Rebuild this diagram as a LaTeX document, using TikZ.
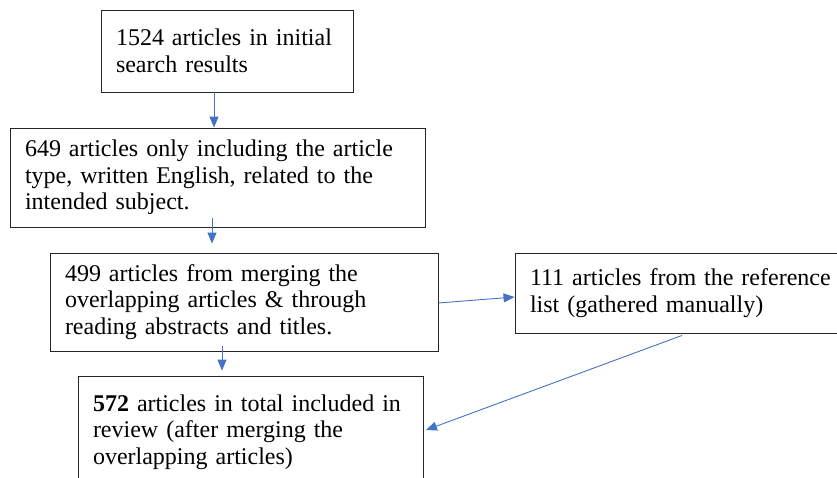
\documentclass[tikz,border=0pt]{standalone}
\usepackage{fontspec}
\setmainfont{Liberation Serif}
\usetikzlibrary{arrows.meta}
\definecolor{arrowblue}{RGB}{68,114,196}
\tikzset{
  flowbox/.style={draw=black!85, line width=0.9pt, rectangle, inner xsep=15pt, inner ysep=2pt,
    align=left, font=\fontsize{24}{26.5}\selectfont},
  flowarrow/.style={draw=arrowblue, line width=0.9pt, -{Triangle[length=11pt,width=9pt]}}
}
\begin{document}
\begin{tikzpicture}[x=1pt,y=-1pt]
\useasboundingbox (0,0) rectangle (837,477);
\node[flowbox, minimum width=252pt, minimum height=82pt, text width=222pt] (b1) at (227,51)
  {1524 articles in initial\\search results};
\node[flowbox, minimum width=415pt, minimum height=99pt, text width=385pt] (b2) at (217.5,177.5)
  {649 articles only including the article\\type, written English, related to the\\intended subject.};
\node[flowbox, minimum width=388pt, minimum height=98pt, text width=358pt] (b3) at (244,302)
  {499 articles from merging the\\overlapping articles \& through\\reading abstracts and titles.};
\node[flowbox, minimum width=350pt, minimum height=80pt, text width=320pt] (b4) at (690,293)
  {111 articles from the reference\\list (gathered manually)};
\node[flowbox, minimum width=345pt, minimum height=112pt, text width=315pt] (b5) at (250.5,432)
  {\textbf{572} articles in total included in\\review (after merging the\\overlapping articles)};
\draw[flowarrow] ([xshift=-13pt]b1.south) -- ([xshift=-13pt]b1.south |- b2.north);
\draw[flowarrow] ([xshift=-5.5pt,yshift=9pt]b2.south) -- ([xshift=-5.5pt,yshift=9pt]b2.south |- b3.north);
\draw[flowarrow] ([xshift=-22pt,yshift=5pt]b3.south) -- ([xshift=-22pt,yshift=5pt]b3.south |- b5.north);
\draw[flowarrow] ([yshift=-1pt]b3.east) -- ([yshift=-4pt]b4.west);
\draw[flowarrow] ([xshift=-8pt,yshift=-2pt]b4.south) -- ([xshift=2.5pt,yshift=2pt]b5.east);
\end{tikzpicture}
\end{document}
